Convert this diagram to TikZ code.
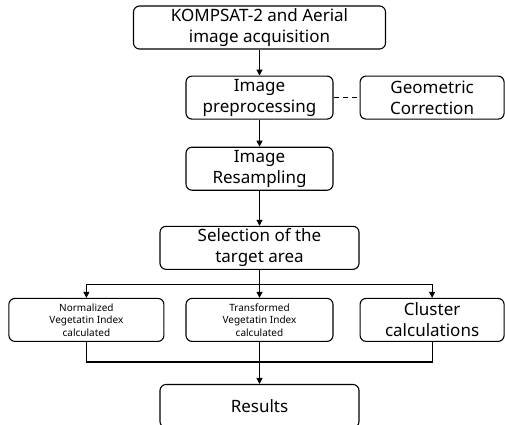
\documentclass[tikz,border=0pt]{standalone}
\usepackage{fontspec}
\setmainfont{Noto Sans}
\usetikzlibrary{arrows.meta,positioning}

\begin{document}
\begin{tikzpicture}[x=1pt,y=1pt,
  box/.style={draw,rounded corners=6pt,line width=1.1pt,align=center,font=\fontsize{17}{21}\selectfont,minimum height=43pt,inner sep=1pt},
  small/.style={font=\fontsize{10}{12.5}\selectfont},
  flow/.style={-{Triangle[length=6pt,width=6pt]},line width=1.1pt},
  link/.style={line width=1.1pt},
  node distance=26pt and 26pt
]
\useasboundingbox (0,0) rectangle (505,-424);
\node[box,minimum width=252pt] (acq) at (259.5,-27.5) {KOMPSAT-2 and Aerial\\image acquisition};
\node[box,minimum width=147pt,below=of acq] (pre) {Image\\preprocessing};
\node[box,minimum width=144pt,right=of pre] (geo) {Geometric\\Correction};
\node[box,minimum width=147pt,below=27pt of pre] (rsm) {Image\\Resampling};
\node[box,minimum width=199pt,below=35pt of rsm] (sel) {Selection of the\\target area};
\node[box,small,minimum width=147pt,below=28pt of sel] (tvi) {Transformed\\Vegetatin Index\\calculated};
\node[box,small,minimum width=155pt,left=21pt of tvi] (nvi) {Normalized\\Vegetatin Index\\calculated};
\node[box,minimum width=144pt,right=of tvi] (clu) {Cluster\\calculations};
\node[box,minimum width=199pt,below=42pt of tvi] (res) {Results};
\coordinate[below=15pt of sel.south] (split);
\coordinate[below=20pt of tvi.south] (join);
\draw[flow] (acq) -- (pre);
\draw[link,dash pattern=on 5pt off 4pt] (pre) -- (geo);
\draw[flow] (pre) -- (rsm);
\draw[flow] (rsm) -- (sel);
\draw[flow] (sel) -- (tvi);
\draw[flow] (split) -| (nvi);
\draw[flow] (split) -| (clu);
\draw[link] (nvi) |- (join) -| (clu);
\draw[flow] (tvi) -- (res);
\end{tikzpicture}
\end{document}
